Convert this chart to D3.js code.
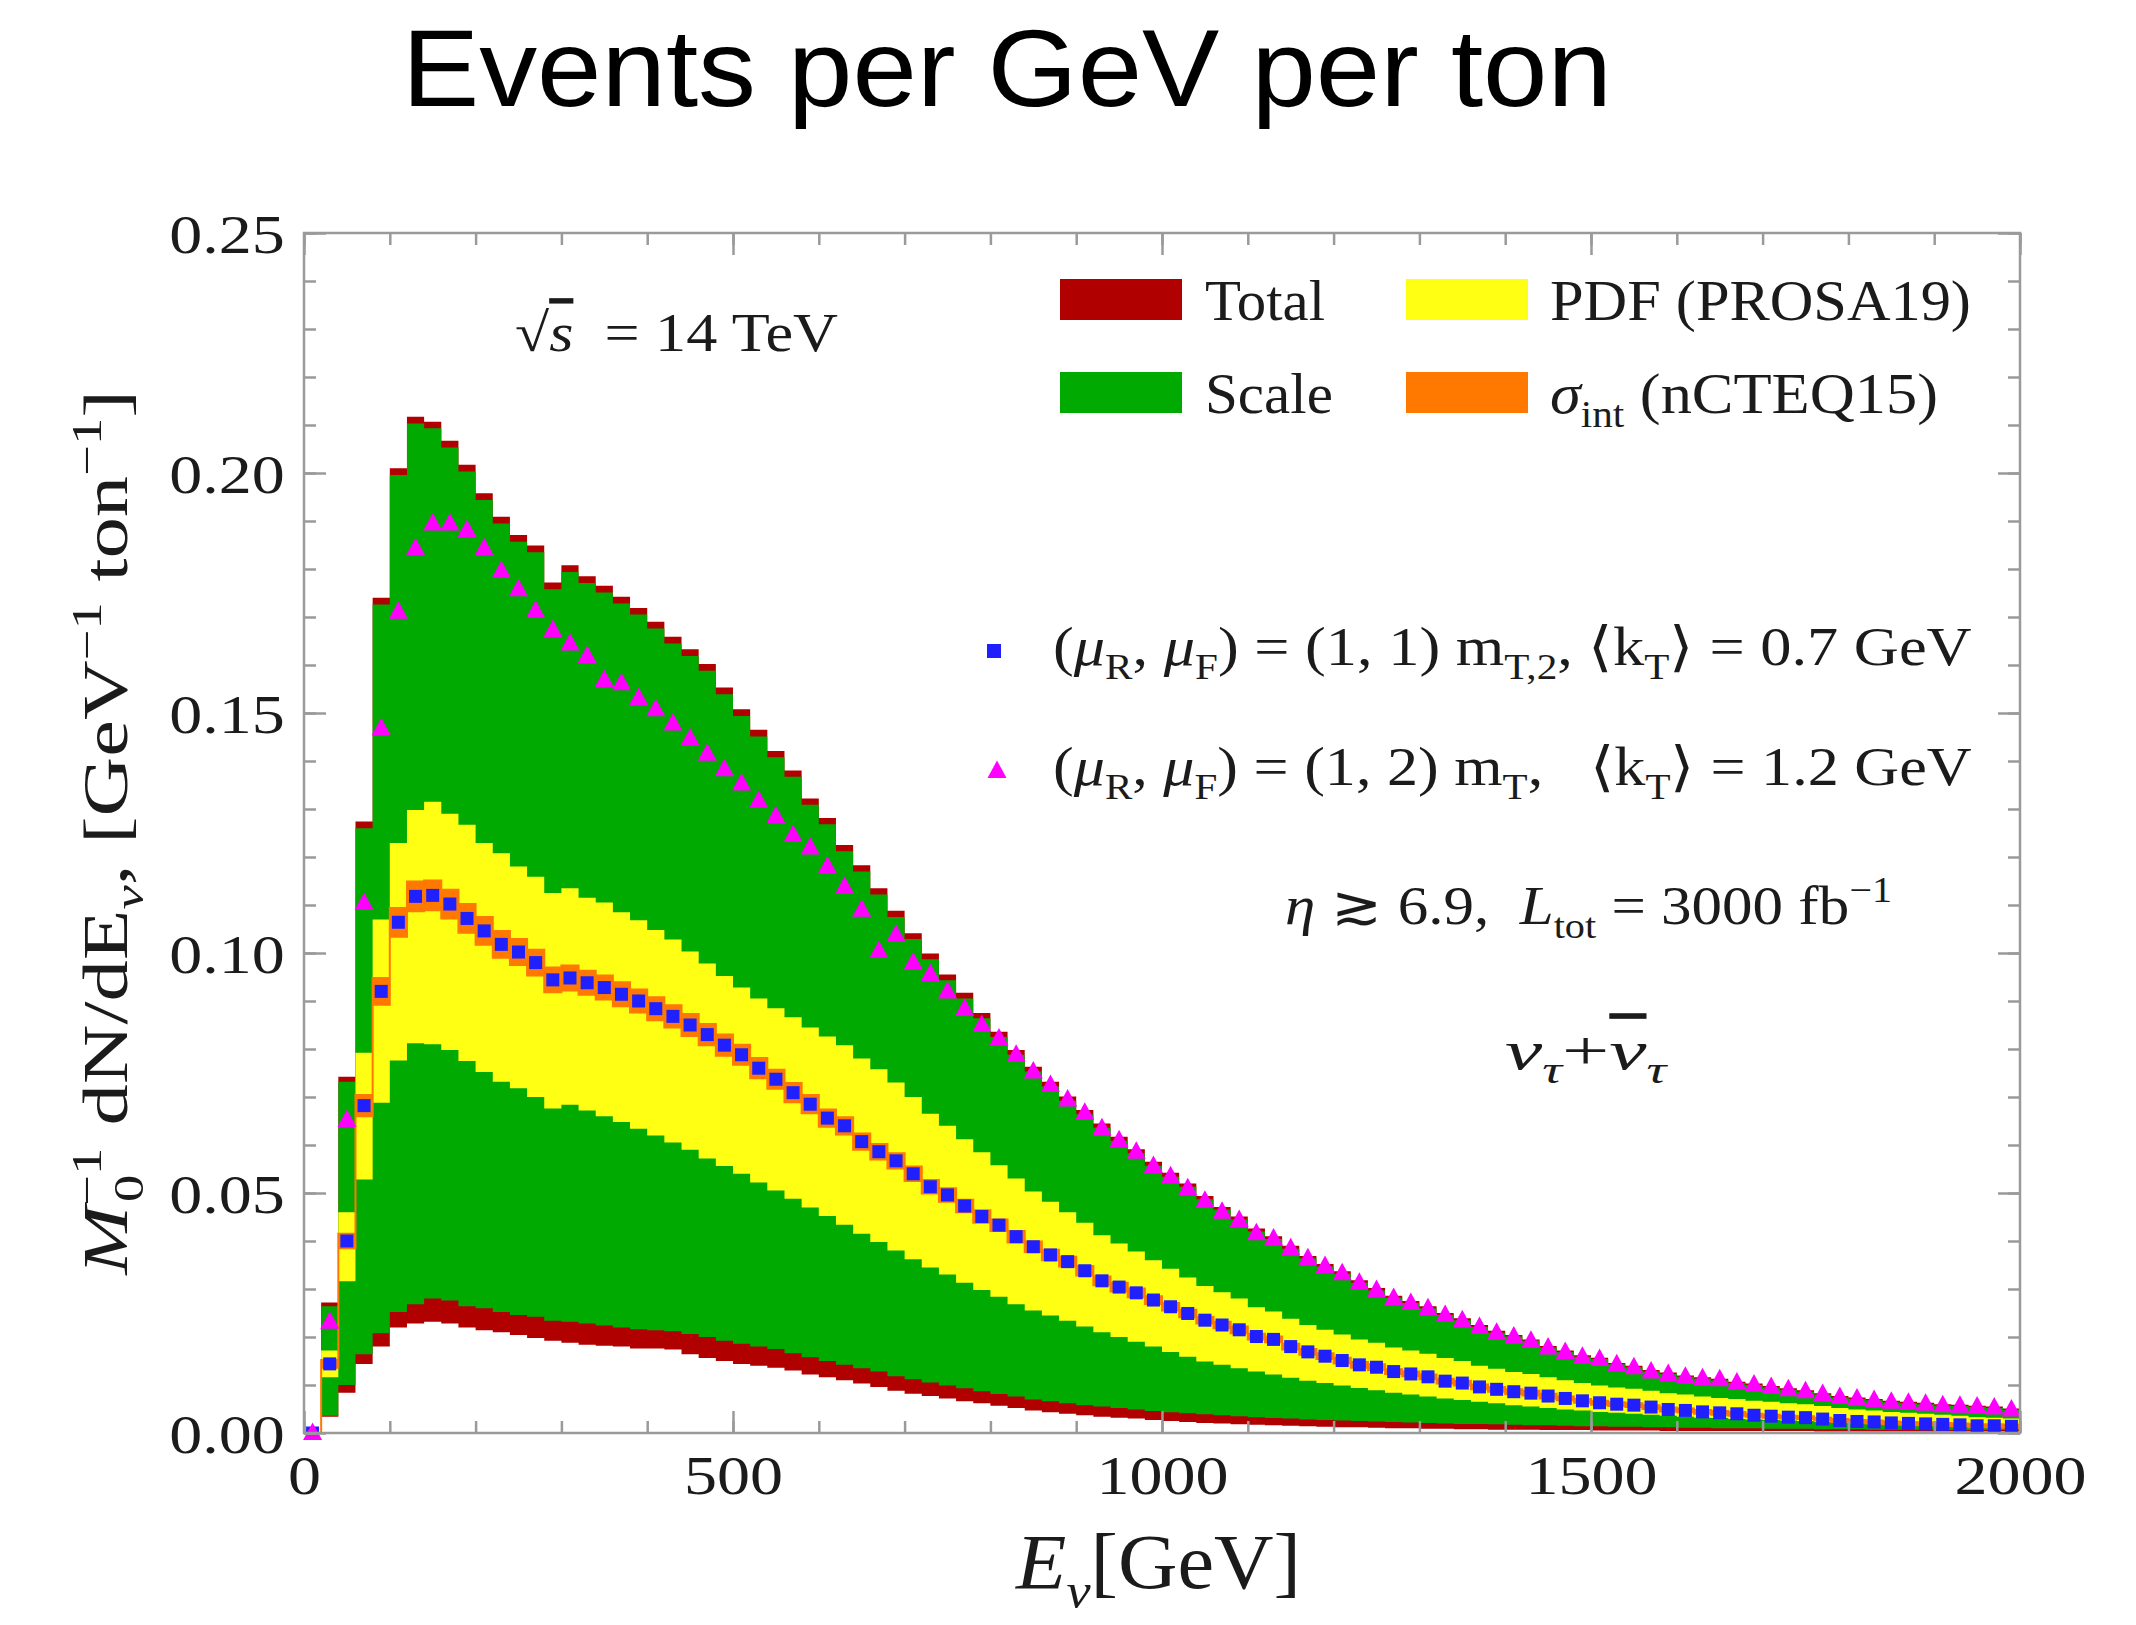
<!DOCTYPE html>
<html>
<head>
<meta charset="utf-8">
<script src="https://cdn.jsdelivr.net/npm/d3@7"></script>
<style>
  body { margin: 0; background: #fff; }
  svg { display: block; }
  text { font-family: "Liberation Serif", "Times New Roman", serif; fill: #1b1b1b; }
  text.rich { white-space: pre; }
</style>
</head>
<body>
<svg id="chart"></svg>
<script>
// ---- data (20 GeV bins, left edge of each bin) ----
const binStart = [0,20,40,60,80,100,120,140,160,180,200,220,240,260,280,300,320,340,360,380,
  400,420,440,460,480,500,520,540,560,580,600,620,640,660,680,700,720,740,760,780,
  800,820,840,860,880,900,920,940,960,980,1000,1020,1040,1060,1080,1100,1120,1140,1160,1180,
  1200,1220,1240,1260,1280,1300,1320,1340,1360,1380,1400,1420,1440,1460,1480,1500,1520,1540,1560,1580,
  1600,1620,1640,1660,1680,1700,1720,1740,1760,1780,1800,1820,1840,1860,1880,1900,1920,1940,1960,1980];

// blue squares: (muR, muF) = (1,1) mT,2, <kT> = 0.7 GeV
const central = [0, 0.0144, 0.040, 0.0682, 0.092, 0.1064, 0.1118, 0.112, 0.1102, 0.1072,
  0.1046, 0.1018, 0.1002, 0.098, 0.0944, 0.0948, 0.0938, 0.0928, 0.0914, 0.090,
  0.0884, 0.0868, 0.085, 0.083, 0.0808, 0.0788, 0.076, 0.0737, 0.0709, 0.0685,
  0.0656, 0.064, 0.0607, 0.0586, 0.0567, 0.054, 0.0513, 0.0496, 0.0473, 0.0451,
  0.0433, 0.0409, 0.0388, 0.0371, 0.0357, 0.0338, 0.0317, 0.0304, 0.0292, 0.0277,
  0.0263, 0.0249, 0.0235, 0.0225, 0.0215, 0.0201, 0.0195, 0.018, 0.0169, 0.016,
  0.0151, 0.0142, 0.0137, 0.0128, 0.0123, 0.0117, 0.0108, 0.0104, 0.0096, 0.0091,
  0.0086, 0.0083, 0.0077, 0.0072, 0.0067, 0.0063, 0.006, 0.0058, 0.0054, 0.0049,
  0.0047, 0.0044, 0.0042, 0.004, 0.0037, 0.0035, 0.0033, 0.0032, 0.0029, 0.0026,
  0.0024, 0.0023, 0.0021, 0.002, 0.0019, 0.0018, 0.0017, 0.0015, 0.0015, 0.0014];

// magenta triangles: (muR, muF) = (1,2) mT, <kT> = 1.2 GeV
const altScale = [0, 0.0232, 0.0652, 0.1104, 0.1468, 0.1711, 0.1843, 0.1895, 0.1895, 0.1881,
  0.1843, 0.1796, 0.1758, 0.1713, 0.1673, 0.1645, 0.1619, 0.1569, 0.1562, 0.1531,
  0.1508, 0.1478, 0.1447, 0.1415, 0.1383, 0.1353, 0.1317, 0.1285, 0.1246, 0.122,
  0.118, 0.1138, 0.109, 0.1004, 0.1038, 0.098, 0.0956, 0.092, 0.0884, 0.085,
  0.0822, 0.0788, 0.0753, 0.0725, 0.0695, 0.0667, 0.0635, 0.061, 0.0586, 0.0556,
  0.0535, 0.051, 0.0484, 0.0461, 0.0444, 0.0416, 0.0405, 0.0385, 0.0364, 0.0348,
  0.0333, 0.0313, 0.0298, 0.0281, 0.0271, 0.026, 0.0246, 0.0235, 0.0221, 0.0209,
  0.0201, 0.0192, 0.0178, 0.0169, 0.0159, 0.0154, 0.0143, 0.0137, 0.0128, 0.0123,
  0.0117, 0.0114, 0.0112, 0.0105, 0.0101, 0.0096, 0.0091, 0.0087, 0.0081, 0.0075,
  0.0072, 0.0069, 0.0065, 0.0063, 0.0061, 0.0058, 0.0057, 0.0055, 0.0053, 0.0049];

// total uncertainty band (red)
const totalHi = [0, 0.0272, 0.0742, 0.1274, 0.174, 0.201, 0.2117, 0.2107, 0.2067, 0.2017,
  0.1958, 0.1909, 0.1871, 0.1849, 0.1772, 0.1808, 0.1785, 0.1765, 0.1742, 0.1719,
  0.169, 0.1659, 0.1633, 0.1602, 0.1553, 0.1508, 0.1465, 0.1421, 0.138, 0.1322,
  0.1281, 0.1225, 0.1183, 0.1135, 0.1088, 0.1041, 0.0999, 0.0955, 0.0917, 0.0875,
  0.0836, 0.0798, 0.0763, 0.0732, 0.0701, 0.0673, 0.0645, 0.0617, 0.0591, 0.0565,
  0.0542, 0.052, 0.0494, 0.0471, 0.0451, 0.0426, 0.041, 0.039, 0.0369, 0.0352,
  0.0337, 0.0318, 0.0302, 0.0286, 0.0275, 0.0264, 0.025, 0.0239, 0.0225, 0.0213,
  0.0204, 0.0195, 0.0181, 0.0172, 0.0162, 0.0157, 0.0146, 0.014, 0.0131, 0.0126,
  0.012, 0.0116, 0.0113, 0.0107, 0.0103, 0.0098, 0.0093, 0.0089, 0.0083, 0.0077,
  0.0074, 0.0071, 0.0067, 0.0065, 0.0063, 0.006, 0.0059, 0.0057, 0.0055, 0.0051];
const totalLo = [0, 0.0034, 0.0084, 0.0144, 0.018, 0.022, 0.0228, 0.0232, 0.0228, 0.022,
  0.0214, 0.021, 0.0204, 0.0198, 0.0192, 0.0188, 0.0184, 0.0182, 0.018, 0.0176,
  0.0176, 0.0174, 0.0164, 0.0156, 0.015, 0.0144, 0.014, 0.0136, 0.013, 0.0122,
  0.0116, 0.011, 0.0103, 0.0096, 0.0088, 0.0082, 0.0077, 0.0072, 0.0066, 0.0062,
  0.0057, 0.0052, 0.0047, 0.0043, 0.004, 0.0037, 0.0034, 0.0032, 0.003, 0.0027,
  0.0025, 0.0023, 0.0021, 0.002, 0.0018, 0.0017, 0.0016, 0.0015, 0.0014, 0.0013,
  0.0012, 0.0012, 0.0011, 0.001, 0.001, 0.0009, 0.0009, 0.0008, 0.0008, 0.0007,
  0.0007, 0.0007, 0.0006, 0.0006, 0.0006, 0.0005, 0.0005, 0.0005, 0.0005, 0.0004,
  0.0004, 0.0004, 0.0004, 0.0004, 0.0004, 0.0004, 0.0004, 0.0004, 0.0003, 0.0003,
  0.0003, 0.0003, 0.0003, 0.0003, 0.0003, 0.0003, 0.0003, 0.0003, 0.0003, 0.0003];

// scale uncertainty band (green)
const scaleHi = [0, 0.0264, 0.0732, 0.126, 0.1726, 0.1996, 0.2103, 0.2093, 0.2053, 0.2003,
  0.1944, 0.1895, 0.1857, 0.1835, 0.1758, 0.1794, 0.1771, 0.1751, 0.1728, 0.1705,
  0.1676, 0.1645, 0.1619, 0.1588, 0.1539, 0.1494, 0.1451, 0.1408, 0.1367, 0.1309,
  0.1268, 0.1212, 0.117, 0.1122, 0.1075, 0.1029, 0.0987, 0.0943, 0.0905, 0.0864,
  0.0825, 0.0788, 0.0753, 0.0722, 0.0692, 0.0664, 0.0636, 0.0609, 0.0583, 0.0557,
  0.0534, 0.0513, 0.0487, 0.0465, 0.0445, 0.042, 0.0404, 0.0384, 0.0364, 0.0347,
  0.0332, 0.0313, 0.0297, 0.0282, 0.0271, 0.026, 0.0246, 0.0235, 0.0221, 0.0209,
  0.0201, 0.0192, 0.0178, 0.0169, 0.0159, 0.0154, 0.0143, 0.0137, 0.0128, 0.0123,
  0.0117, 0.0113, 0.011, 0.0104, 0.01, 0.0095, 0.009, 0.0086, 0.008, 0.0074,
  0.0071, 0.0068, 0.0064, 0.0062, 0.006, 0.0057, 0.0056, 0.0054, 0.0052, 0.0048];
const scaleLo = [0, 0.0036, 0.010, 0.0164, 0.0208, 0.0252, 0.0268, 0.028, 0.0276, 0.0264,
  0.026, 0.0252, 0.0246, 0.0242, 0.0234, 0.0232, 0.0228, 0.0224, 0.022, 0.0216,
  0.0214, 0.0212, 0.0206, 0.02, 0.0192, 0.0186, 0.018, 0.0175, 0.0166, 0.0158,
  0.015, 0.0142, 0.0135, 0.0128, 0.0118, 0.0112, 0.0105, 0.0099, 0.0093, 0.0087,
  0.0081, 0.0076, 0.007, 0.0066, 0.0062, 0.0058, 0.0055, 0.0052, 0.0049, 0.0046,
  0.0043, 0.0041, 0.0039, 0.0037, 0.0035, 0.0033, 0.0031, 0.003, 0.0028, 0.0027,
  0.0026, 0.0025, 0.0024, 0.0023, 0.0022, 0.0021, 0.002, 0.0019, 0.0019, 0.0018,
  0.0017, 0.0016, 0.0016, 0.0015, 0.0014, 0.0014, 0.0013, 0.0013, 0.0012, 0.0012,
  0.0011, 0.0011, 0.001, 0.001, 0.001, 0.0009, 0.0009, 0.0009, 0.0008, 0.0008,
  0.0008, 0.0007, 0.0007, 0.0007, 0.0007, 0.0006, 0.0006, 0.0006, 0.0006, 0.0006];

// PDF (PROSA19) band (yellow)
const pdfHi = [0, 0.0172, 0.046, 0.0792, 0.107, 0.1229, 0.1298, 0.1315, 0.129, 0.1267,
  0.1229, 0.1208, 0.118, 0.1159, 0.1125, 0.1135, 0.1115, 0.1105, 0.1085, 0.1068,
  0.1048, 0.1028, 0.1003, 0.0978, 0.0952, 0.0928, 0.0905, 0.0885, 0.0866, 0.0845,
  0.0826, 0.0808, 0.078, 0.0758, 0.073, 0.07, 0.0665, 0.064, 0.0612, 0.0585,
  0.0558, 0.053, 0.0503, 0.0482, 0.046, 0.0438, 0.0412, 0.0395, 0.0378, 0.036,
  0.0342, 0.0324, 0.0306, 0.0293, 0.028, 0.0262, 0.0253, 0.0238, 0.0225, 0.0215,
  0.0205, 0.0195, 0.0188, 0.0178, 0.0172, 0.0165, 0.0156, 0.015, 0.014, 0.0134,
  0.0127, 0.0123, 0.0116, 0.011, 0.0104, 0.0099, 0.0095, 0.0092, 0.0088, 0.0083,
  0.008, 0.0076, 0.0073, 0.0071, 0.0067, 0.0065, 0.0062, 0.006, 0.0056, 0.0052,
  0.0049, 0.0047, 0.0044, 0.0042, 0.004, 0.0038, 0.0036, 0.0033, 0.0032, 0.003];
const pdfLo = [0, 0.0116, 0.0316, 0.0528, 0.0688, 0.0776, 0.0812, 0.081, 0.0798, 0.0775,
  0.0752, 0.0732, 0.0718, 0.07, 0.0676, 0.0684, 0.0672, 0.066, 0.0648, 0.0634,
  0.062, 0.0605, 0.059, 0.0572, 0.0556, 0.054, 0.0522, 0.0505, 0.0488, 0.047,
  0.0452, 0.0434, 0.0415, 0.0398, 0.038, 0.0362, 0.0345, 0.033, 0.0313, 0.0298,
  0.0284, 0.0268, 0.0255, 0.0245, 0.0234, 0.0222, 0.021, 0.02, 0.019, 0.018,
  0.0169, 0.0159, 0.0149, 0.0142, 0.0135, 0.0128, 0.0122, 0.0115, 0.0109, 0.0104,
  0.0099, 0.0094, 0.0089, 0.0084, 0.008, 0.0076, 0.0072, 0.0069, 0.0065, 0.0062,
  0.0058, 0.0055, 0.0052, 0.0049, 0.0047, 0.0044, 0.0042, 0.004, 0.0038, 0.0036,
  0.0034, 0.0032, 0.0031, 0.0029, 0.0028, 0.0027, 0.0026, 0.0025, 0.0023, 0.0021,
  0.002, 0.0019, 0.0018, 0.0017, 0.0016, 0.0015, 0.0015, 0.0014, 0.0013, 0.0012];

// sigma_int (nCTEQ15) half width around the central value (orange)
const sigmaErr = [0, 0.0008, 0.0015, 0.0022, 0.0028, 0.003, 0.0031, 0.0031, 0.003, 0.003,
  0.0029, 0.0028, 0.0027, 0.0027, 0.0026, 0.0026, 0.0025, 0.0025, 0.0025, 0.0024,
  0.0024, 0.0023, 0.0023, 0.0022, 0.0022, 0.0021, 0.0021, 0.002, 0.002, 0.0019,
  0.0018, 0.0018, 0.0017, 0.0016, 0.0016, 0.0015, 0.0014, 0.0014, 0.0013, 0.0013,
  0.0012, 0.0012, 0.0011, 0.0011, 0.001, 0.001, 0.0009, 0.0009, 0.0009, 0.0008,
  0.0008, 0.0008, 0.0007, 0.0007, 0.0007, 0.0006, 0.0006, 0.0006, 0.0006, 0.0006,
  0.0006, 0.0006, 0.0006, 0.0005, 0.0005, 0.0005, 0.0005, 0.0005, 0.0005, 0.0005,
  0.0005, 0.0005, 0.0005, 0.0004, 0.0004, 0.0004, 0.0004, 0.0004, 0.0004, 0.0004,
  0.0004, 0.0004, 0.0004, 0.0004, 0.0003, 0.0003, 0.0003, 0.0003, 0.0003, 0.0003,
  0.0003, 0.0003, 0.0003, 0.0003, 0.0003, 0.0003, 0.0003, 0.0003, 0.0003, 0.0003];

const binWidth = 20;
const xTicksMajor = [0, 500, 1000, 1500, 2000];
const yTicksMajor = [0, 0.05, 0.10, 0.15, 0.20, 0.25];

const colors = {
  total: "#b00000", scale: "#00aa00", pdf: "#ffff14", sigma: "#ff7800",
  square: "#2020ff", triangle: "#ff00ff", frame: "#9a9a9a"
};

// ---- layout ----
const W = 2136, H = 1625;
const margin = { top: 233, right: 116, bottom: 192, left: 304 };
const width = W - margin.left - margin.right;
const height = H - margin.top - margin.bottom;

const svg = d3.select("#chart").attr("width", W).attr("height", H);
svg.append("rect").attr("width", W).attr("height", H).attr("fill", "#fff");

const x = d3.scaleLinear().domain([0, 2000]).range([margin.left, margin.left + width]);
const y = d3.scaleLinear().domain([0, 0.25]).range([margin.top + height, margin.top]);

// rows, plus a closing point so the last step reaches the right edge
const rows = binStart.map((e, i) => ({
  e, c: central[i], a: altScale[i],
  tHi: totalHi[i], tLo: totalLo[i], sHi: scaleHi[i], sLo: scaleLo[i],
  pHi: pdfHi[i], pLo: pdfLo[i], sig: sigmaErr[i]
}));
const stepRows = rows.concat([{ ...rows[rows.length - 1], e: binStart[binStart.length - 1] + binWidth }]);

svg.append("clipPath").attr("id", "plotClip")
  .append("rect").attr("x", margin.left).attr("y", margin.top)
  .attr("width", width).attr("height", height);

const bands = svg.append("g").attr("clip-path", "url(#plotClip)");

function band(lo, hi, fill, stroke) {
  const area = d3.area().curve(d3.curveStepAfter)
    .x(d => x(d.e)).y0(d => y(lo(d))).y1(d => y(hi(d)));
  bands.append("path").datum(stepRows)
    .attr("d", area).attr("fill", fill)
    .attr("stroke", stroke || "none").attr("stroke-width", stroke ? 2 : 0);
}
band(d => d.tLo, d => d.tHi, colors.total);
band(d => d.sLo, d => d.sHi, colors.scale);
band(d => d.pLo, d => d.pHi, colors.pdf);
band(d => d.c - d.sig, d => d.c + d.sig, colors.sigma, colors.sigma);

// markers at bin centres
const sq = 13;
const triPath = "M0,-10.5L9.5,7L-9.5,7Z";
const marks = svg.append("g");
marks.selectAll(".sq").data(rows).enter().append("rect")
  .attr("class", "sq")
  .attr("x", d => x(d.e + binWidth / 2) - sq / 2)
  .attr("y", d => y(d.c) - sq / 2)
  .attr("width", sq).attr("height", sq)
  .attr("fill", colors.square);
marks.selectAll(".tri").data(rows).enter().append("path")
  .attr("class", "tri")
  .attr("d", triPath)
  .attr("transform", d => `translate(${x(d.e + binWidth / 2)},${y(d.a)})`)
  .attr("fill", colors.triangle);

// ---- frame + ticks (ticks point inward on all four sides) ----
const axes = svg.append("g");
function styleAxis(g) {
  g.select(".domain").remove();
  g.selectAll(".tick line").attr("stroke", colors.frame).attr("stroke-width", 2.5);
}
const minorX = d3.range(0, 2001, 100);
const minorY = d3.range(0, 0.2501, 0.01);

axes.append("g").attr("transform", `translate(0,${margin.top + height})`)
  .call(d3.axisBottom(x).tickValues(minorX).tickSize(-12).tickFormat("")).call(styleAxis);
axes.append("g").attr("transform", `translate(0,${margin.top})`)
  .call(d3.axisTop(x).tickValues(minorX).tickSize(-12).tickFormat("")).call(styleAxis);
axes.append("g").attr("transform", `translate(${margin.left},0)`)
  .call(d3.axisLeft(y).tickValues(minorY).tickSize(-12).tickFormat("")).call(styleAxis);
axes.append("g").attr("transform", `translate(${margin.left + width},0)`)
  .call(d3.axisRight(y).tickValues(minorY).tickSize(-12).tickFormat("")).call(styleAxis);

axes.append("g").attr("transform", `translate(0,${margin.top})`)
  .call(d3.axisTop(x).tickValues(xTicksMajor).tickSize(-22).tickFormat("")).call(styleAxis);
axes.append("g").attr("transform", `translate(${margin.left + width},0)`)
  .call(d3.axisRight(y).tickValues(yTicksMajor).tickSize(-22).tickFormat("")).call(styleAxis);

const xAxisG = axes.append("g").attr("transform", `translate(0,${margin.top + height})`)
  .call(d3.axisBottom(x).tickValues(xTicksMajor).tickSize(-22).tickPadding(22).tickFormat(d3.format("d")))
  .call(styleAxis);
const yAxisG = axes.append("g").attr("transform", `translate(${margin.left},0)`)
  .call(d3.axisLeft(y).tickValues(yTicksMajor).tickSize(-22).tickFormat(d3.format(".2f")))
  .call(styleAxis);

xAxisG.selectAll(".tick text")
  .attr("font-size", 55).style("font-family", "'Liberation Serif', serif").attr("fill", "#1b1b1b")
  .attr("transform", "scale(1.2,1)");
yAxisG.selectAll(".tick text")
  .attr("font-size", 55).style("font-family", "'Liberation Serif', serif").attr("fill", "#1b1b1b")
  .attr("x", -16).attr("dy", "0.36em")
  .attr("transform", "scale(1.2,1)");

axes.append("rect")
  .attr("x", margin.left).attr("y", margin.top)
  .attr("width", width).attr("height", height)
  .attr("fill", "none").attr("stroke", colors.frame).attr("stroke-width", 2.5);

// ---- rich text helpers ----
function rich(g, parts, fs) {
  const t = g.append("text").attr("class", "rich").attr("font-size", fs);
  let shift = 0;
  parts.forEach(([s, k, dx]) => {
    const sp = t.append("tspan").text(s);
    let target = 0;
    if (k.includes("sub")) { target = 0.25 * fs; sp.attr("font-size", 0.66 * fs); }
    if (k.includes("sup")) { target = -0.4 * fs; sp.attr("font-size", 0.66 * fs); }
    if (k.includes("i")) sp.attr("font-style", "italic");
    if (k.includes("o")) sp.attr("text-decoration", "overline");
    if (target !== shift) { sp.attr("dy", target - shift); shift = target; }
    if (dx) sp.attr("dx", dx);
  });
  return t;
}
// stretch a text group horizontally so that it spans [x0, x0 + w] with baseline y0
function fit(g, t, x0, y0, w) {
  const bb = t.node().getBBox();
  const s = w / bb.width;
  g.attr("transform", `translate(${x0},${y0}) scale(${s},1) translate(${-bb.x},0)`);
}
function label(parts, fs, x0, y0, w) {
  const g = svg.append("g");
  const t = rich(g, parts, fs);
  fit(g, t, x0, y0, w);
  return g;
}

// title (sans serif, as on the slide)
{
  const g = svg.append("g");
  const t = g.append("text").attr("font-size", 110)
    .style("font-family", "'Liberation Sans', 'DejaVu Sans', sans-serif").style("fill", "#000")
    .text("Events per GeV per ton");
  fit(g, t, 402, 106, 1210);
}

// x-axis title
label([["E", "i"], ["ν", "subi"], ["[GeV]", "n"]], 78, 1015, 1588, 286);

// y-axis title (rotated)
{
  const g = svg.append("g");
  const t = rich(g, [["M", "i"], ["−1", "sup"], ["0", "sub", -42], [" dN/dE", "n", 22], ["ν", "subi"],
    [", [GeV", "n"], ["−1", "sup"], [" ton", "n"], ["−1", "sup"], ["]", "n"]], 64);
  const bb = t.node().getBBox();
  const s = 886 / bb.width;
  g.attr("transform", `translate(127,833) rotate(-90) scale(${s},1) translate(${-(bb.x + bb.width / 2)},0)`);
}

// sqrt(s) annotation
label([["√", "n"], ["s", "io"], ["  = 14 TeV", "n"]], 54, 515, 351, 323);

// colour legend
const legendItems = [
  { c: colors.total, x: 1060, y: 279, tx: 1205, parts: [["Total", "n"]], w: 120 },
  { c: colors.scale, x: 1060, y: 372, tx: 1205, parts: [["Scale", "n"]], w: 128 },
  { c: colors.pdf, x: 1406, y: 279, tx: 1550, parts: [["PDF (PROSA19)", "n"]], w: 421 },
  { c: colors.sigma, x: 1406, y: 372, tx: 1550, parts: [["σ", "i"], ["int", "sub"], [" (nCTEQ15)", "n"]], w: 388 }
];
legendItems.forEach(it => {
  svg.append("rect").attr("x", it.x).attr("y", it.y).attr("width", 122).attr("height", 41).attr("fill", it.c);
  label(it.parts, 56, it.tx, it.y + 41, it.w);
});

// marker legend
svg.append("rect").attr("x", 987).attr("y", 644).attr("width", 14).attr("height", 14).attr("fill", colors.square);
svg.append("path").attr("d", triPath).attr("transform", "translate(997,771)").attr("fill", colors.triangle);
label([["(", "n"], ["μ", "i"], ["R", "sub"], [", ", "n"], ["μ", "i"], ["F", "sub"],
  [") = (1, 1) m", "n"], ["T,2", "sub"], [", ⟨k", "n"], ["T", "sub"], ["⟩ = 0.7 GeV", "n"]], 54, 1053, 665, 918);
label([["(", "n"], ["μ", "i"], ["R", "sub"], [", ", "n"], ["μ", "i"], ["F", "sub"],
  [") = (1, 2) m", "n"], ["T", "sub"], [",   ⟨k", "n"], ["T", "sub"], ["⟩ = 1.2 GeV", "n"]], 54, 1053, 785, 918);

// cuts / luminosity
label([["η", "i"], [" ≳ 6.9,  ", "n"], ["L", "i"], ["tot", "sub"], [" = 3000 fb", "n"], ["−1", "sup"]], 54, 1285, 924, 606);

// neutrino flavour
label([["ν", "i"], ["τ", "subi"], ["+", "n"], ["ν", "io"], ["τ", "subi"]], 56, 1505, 1069, 164);
</script>
</body>
</html>
